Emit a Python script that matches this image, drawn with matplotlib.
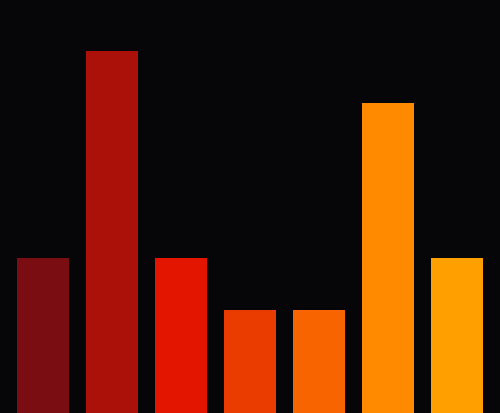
import matplotlib
matplotlib.use('Agg')
import matplotlib.pyplot as plt

categories = ['A', 'B', 'C', 'D', 'E', 'F', 'G']
values = [3, 7, 3, 2, 2, 6, 3]
colors = ['#7a0d11', '#ab1009', '#e41500', '#ea3b00', '#f76400', '#ff8a00', '#ffa000']

BG = '#060508'

fig = plt.figure(figsize=(5.0, 4.14), dpi=100, facecolor=BG)
ax = fig.add_axes([0, 0, 1, 1], facecolor=BG)

x = range(len(categories))
ax.bar(x, values, width=0.75, color=colors)

ax.set_xlim(-0.625, len(categories) - 0.375)
ax.set_ylim(0, 8)
ax.axis('off')

plt.savefig('out.png', dpi=100, facecolor=BG)
